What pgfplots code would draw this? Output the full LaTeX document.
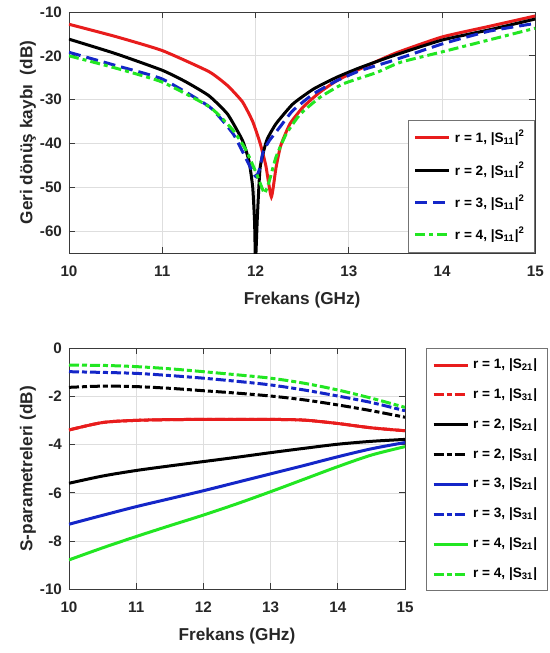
\documentclass[border=0pt]{standalone}
\usepackage{fontspec}
\setmainfont{Liberation Sans}
\usepackage{pgfplots}
\pgfplotsset{compat=1.18}
\definecolor{kirmizi}{HTML}{E81C1C}
\definecolor{mavi}{HTML}{1426C8}
\definecolor{yesil}{HTML}{22E622}
\definecolor{cerceve}{HTML}{3A3A3A}

\pgfplotsset{
  matlab/.style={
    scale only axis,
    xmin=10,xmax=15,xtick={10,...,15},
    grid=major,major grid style={black!13,line width=0.4pt},
    axis line style={cerceve,line width=0.45pt},
    tick style={cerceve,line width=0.45pt},
    tick align=inside,major tick length=3pt,
    /pgf/number format/assume math mode=true,
    tick label style={font=\bfseries\fontsize{7.6}{9}\selectfont,text=black!85},
    xticklabel style={yshift=-3pt},
    label style={font=\bfseries\fontsize{8.6}{10}\selectfont,text=black!85},
    xlabel style={at={(axis description cs:0.5,-0.195)},anchor=center},
    legend cell align=left,
    legend image code/.code={\draw[#1] (0pt,0pt) -- (17pt,0pt);},
    every axis plot/.append style={line width=1.5pt},
  }
}

\begin{document}
\begin{tikzpicture}
\useasboundingbox (-34.5pt,126.5pt) rectangle (240.5pt,-200pt);

% ---- ust grafik: geri donus kaybi
\begin{axis}[matlab,
  at={(0pt,0pt)},anchor=south west,
  width=233.15pt,height=120.5pt,
  ymin=-65,ymax=-10,ytick={-60,-50,...,-10},
  xlabel={Frekans (GHz)},
  ylabel={Geri dönüş kaybı\ \ (dB)},
  ylabel style={at={(axis description cs:-0.088,0.5)},anchor=center},
  legend style={at={(1,0)},anchor=south east,draw=black!55,fill=white,
    font=\bfseries\fontsize{6.8}{8}\selectfont,row sep=4.3pt,inner sep=3pt},
  ]
  \addplot[kirmizi,smooth,tension=0.3] coordinates {
    (10.0,-12.8) (10.5,-15.6) (11.0,-18.8) (11.5,-23.6) (11.7,-26.8)
    (11.86,-30.5) (11.97,-35.0) (12.05,-40.0) (12.11,-45.0) (12.17,-52.2)
    (12.22,-45.5) (12.27,-40.5) (12.37,-35.5) (12.51,-31.7) (12.69,-28.3)
    (12.87,-25.7) (13.12,-23.0) (13.5,-19.4) (14.0,-15.7) (14.5,-13.3)
    (15.0,-10.9)};
  \addlegendentry{r = 1, |S\textsubscript{11}|\textsuperscript{2}}
  \addplot[black,smooth,tension=0.3] coordinates {
    (10.0,-16.2) (10.5,-19.5) (11.0,-23.3) (11.25,-25.9) (11.5,-29.1)
    (11.7,-33.3) (11.86,-39.3) (11.93,-44.0) (11.97,-50.0) (11.99,-58.0)
    (12.00,-67) (12.02,-56.7) (12.05,-45.4) (12.12,-39.3) (12.22,-35.5)
    (12.40,-31.0) (12.62,-27.6) (12.87,-24.9) (13.12,-22.7) (13.5,-19.8)
    (14.0,-16.4) (14.5,-14.1) (15.0,-11.6)};
  \addlegendentry{r = 2, |S\textsubscript{11}|\textsuperscript{2}}
  \addplot[mavi,smooth,tension=0.3,dash pattern=on 6pt off 3pt] coordinates {
    (10.0,-19.2) (10.5,-22.2) (11.0,-25.3) (11.51,-31.7) (11.76,-37.8)
    (11.89,-43.1) (11.98,-46.9) (12.01,-47.6) (12.05,-45.4) (12.08,-42.0)
    (12.15,-39.3) (12.26,-36.3) (12.40,-32.5) (12.62,-28.7) (12.87,-25.7)
    (13.12,-23.4) (13.47,-21.1) (14.0,-17.3) (14.5,-14.4) (15.0,-12.6)};
  \addlegendentry{r = 3, |S\textsubscript{11}|\textsuperscript{2}}
  \addplot[yesil,smooth,tension=0.3,dash pattern=on 5pt off 2pt on 2pt off 2pt] coordinates {
    (10.0,-20.0) (10.5,-22.8) (11.0,-26.0) (11.51,-31.7) (11.76,-37.0)
    (11.90,-41.6) (12.01,-46.9) (12.08,-50.7) (12.10,-51.4) (12.15,-48.4)
    (12.22,-43.1) (12.33,-37.8) (12.48,-33.3) (12.69,-29.5) (12.94,-26.4)
    (13.30,-23.8) (13.55,-21.5) (14.0,-19.1) (14.5,-16.4) (15.0,-13.7)};
  \addlegendentry{r = 4, |S\textsubscript{11}|\textsuperscript{2}}
\end{axis}

% ---- alt grafik: S-parametreleri
\begin{axis}[matlab,
  at={(0pt,-168.15pt)},anchor=south west,
  width=168pt,height=120.5pt,
  ymin=-10,ymax=0,ytick={-10,-8,...,0},
  xlabel={Frekans (GHz)},
  ylabel={S-parametreleri (dB)},
  ylabel style={at={(axis description cs:-0.122,0.5)},anchor=center},
  legend style={at={(1.0616,1)},anchor=north west,draw=black!55,fill=white,
    font=\bfseries\fontsize{6.8}{8}\selectfont,row sep=4.5pt,inner sep=3pt,
    /tikz/every even column/.append style={column sep=0pt}},
  ]
  \addplot[kirmizi,smooth] coordinates {
    (10,-3.39) (10.5,-3.08) (11,-2.99) (11.5,-2.96) (12,-2.95) (12.5,-2.95)
    (13,-2.95) (13.5,-2.98) (14,-3.12) (14.5,-3.30) (15,-3.42)};
  \addlegendentry{r = 1, |S\textsubscript{21}|}
  \addplot[kirmizi,smooth,dash pattern=on 5pt off 1.5pt on 2.5pt off 1.5pt] coordinates {
    (10,-3.39) (10.5,-3.08) (11,-2.99) (11.5,-2.96) (12,-2.95) (12.5,-2.95)
    (13,-2.95) (13.5,-2.98) (14,-3.12) (14.5,-3.30) (15,-3.42)};
  \addlegendentry{r = 1, |S\textsubscript{31}|}
  \addplot[black,smooth] coordinates {
    (10,-5.60) (10.5,-5.30) (11,-5.07) (11.5,-4.88) (12,-4.70) (12.5,-4.52)
    (13,-4.33) (13.5,-4.15) (14,-3.98) (14.5,-3.86) (15,-3.78)};
  \addlegendentry{r = 2, |S\textsubscript{21}|}
  \addplot[black,smooth,dash pattern=on 5pt off 1.5pt on 2.5pt off 1.5pt] coordinates {
    (10,-1.62) (10.5,-1.57) (11,-1.59) (11.5,-1.66) (12,-1.76) (12.5,-1.86)
    (13,-1.98) (13.5,-2.14) (14,-2.35) (14.5,-2.59) (15,-2.86)};
  \addlegendentry{r = 2, |S\textsubscript{31}|}
  \addplot[mavi,smooth] coordinates {
    (10,-7.30) (10.5,-6.93) (11,-6.57) (11.5,-6.24) (12,-5.91) (12.5,-5.56)
    (13,-5.21) (13.5,-4.86) (14,-4.50) (14.5,-4.17) (15,-3.91)};
  \addlegendentry{r = 3, |S\textsubscript{21}|}
  \addplot[mavi,smooth,dash pattern=on 5pt off 1.5pt on 2.5pt off 1.5pt] coordinates {
    (10,-0.97) (10.5,-1.00) (11,-1.04) (11.5,-1.13) (12,-1.24) (12.5,-1.37)
    (13,-1.52) (13.5,-1.73) (14,-1.98) (14.5,-2.25) (15,-2.59)};
  \addlegendentry{r = 3, |S\textsubscript{31}|}
  \addplot[yesil,smooth] coordinates {
    (10,-8.78) (10.5,-8.28) (11,-7.81) (11.5,-7.36) (12,-6.92) (12.5,-6.45)
    (13,-5.95) (13.5,-5.43) (14,-4.91) (14.5,-4.43) (15,-4.08)};
  \addlegendentry{r = 4, |S\textsubscript{21}|}
  \addplot[yesil,smooth,dash pattern=on 5pt off 1.5pt on 2.5pt off 1.5pt] coordinates {
    (10,-0.70) (10.5,-0.71) (11,-0.76) (11.5,-0.85) (12,-0.97) (12.5,-1.10)
    (13,-1.24) (13.5,-1.45) (14,-1.73) (14.5,-2.07) (15,-2.45)};
  \addlegendentry{r = 4, |S\textsubscript{31}|}
\end{axis}
\end{tikzpicture}
\end{document}
